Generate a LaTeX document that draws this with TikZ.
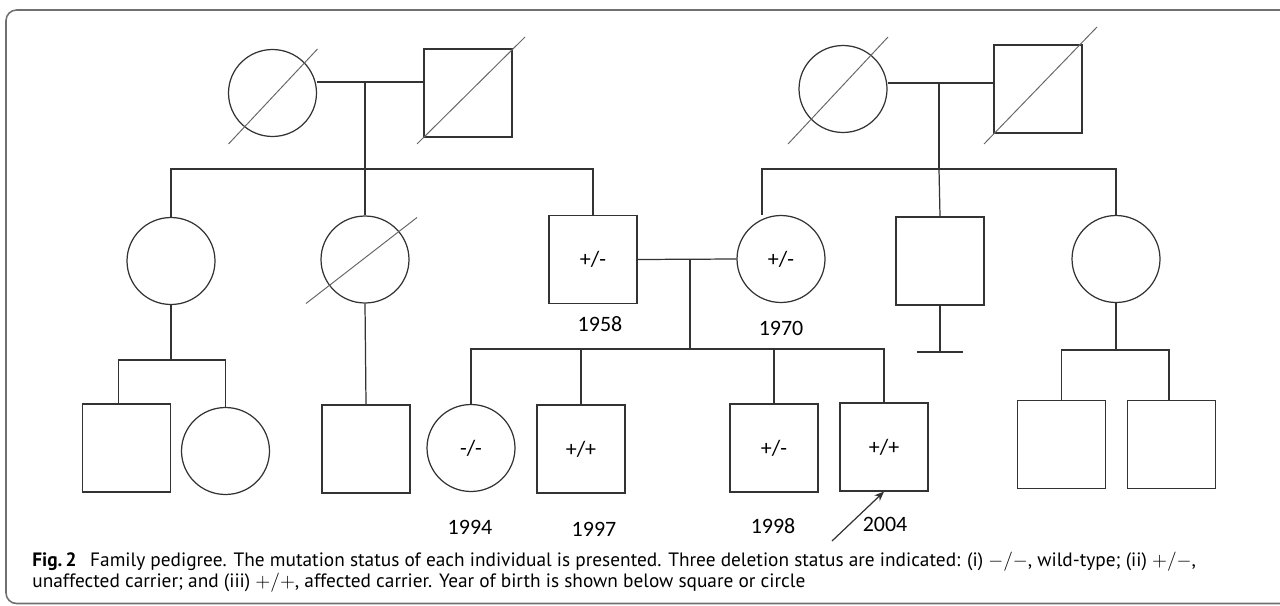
\documentclass[tikz,border=0pt]{standalone}
\usepackage{fontspec}
\setmainfont{Carlito}
\newfontfamily\capfont{PT Sans}
\usetikzlibrary{shapes.geometric,arrows.meta}
\definecolor{ink}{HTML}{333333}
\definecolor{slashgray}{HTML}{666666}
\definecolor{framegray}{HTML}{707070}

\begin{document}
\begin{tikzpicture}[x=0.02cm,y=-0.02cm,
    male/.style={draw=ink,line width=0.7pt,rectangle,inner sep=0pt,
      minimum width=1.76cm,minimum height=1.76cm,font=\fontsize{12.5}{14}\selectfont},
    female/.style={draw=ink,line width=0.7pt,ellipse,inner sep=0pt,
      minimum width=1.76cm,minimum height=1.74cm,font=\fontsize{12.5}{14}\selectfont},
    rel/.style={draw=ink,line width=0.7pt},
    slash/.style={draw=slashgray,line width=0.55pt},
    year/.style={font=\fontsize{12.5}{14}\selectfont}]
  \useasboundingbox (0,0) rectangle (1280,605);
  \draw[framegray,line width=0.9pt,rounded corners=6pt]
    (1300,10) -- (6,10) -- (6,603.5) -- (1300,603.5);

  % first generation
  \node[female] (grandma1) at (272.5,93) {};
  \node[male]   (grandpa1) at (468,93) {};
  \node[female] (grandma2) at (843,89) {};
  \node[male]   (grandpa2) at (1038,89) {};
  \draw[slash] ([shift={(-44,51)}]grandma1.center) -- ([shift={(45,-44)}]grandma1.center);
  \draw[slash] ([shift={(-51,51)}]grandpa1.center) -- ([shift={(57,-56)}]grandpa1.center);
  \draw[slash] ([shift={(-55,55)}]grandma2.center) -- ([shift={(45,-52)}]grandma2.center);
  \draw[slash] ([shift={(-54,55)}]grandpa2.center) -- ([shift={(59,-62)}]grandpa2.center);

  \coordinate (u1) at (365,82);
  \coordinate (s1) at (365,169);
  \coordinate (u2) at (939,83);
  \coordinate (s2) at (939,169);
  \draw[rel] (grandma1.east |- u1) -- (grandpa1.west |- u1);
  \draw[rel] (u1) -- (s1);
  \draw[rel] (grandma2.east |- u2) -- (grandpa2.west |- u2);
  \draw[rel] (u2) -- (s2);

  % second generation
  \node[female] (aunt1)  at (171,261) {};
  \node[female] (aunt2)  at (365,259.5) {};
  \node[male]   (father) at (593,259.5) {+/-};
  \node[female] (mother) at (781,259) {+/-};
  \node[male]   (uncle)  at (940,261) {};
  \node[female] (aunt3)  at (1116,259) {};
  \draw[slash] ([shift={(-59,44)}]aunt2.center) -- ([shift={(52,-42)}]aunt2.center);

  \draw[rel] (aunt1.north) |- (s1) -| (father.north);
  \draw[rel] (s1) -- (aunt2.north);
  \draw[rel] ([xshift=-0.38cm]mother.north) |- (s2) -| (aunt3.north);
  \draw[rel] (s2) -- (uncle.north);

  \coordinate (u3) at (690,259.5);
  \coordinate (s3) at (690,349);
  \draw[rel] (father.east) -- (mother.west);
  \draw[rel] (u3) -- (s3);

  % no children
  \coordinate (nc) at (940,352);
  \draw[rel] (uncle.south) -- (nc);
  \draw[rel] ([xshift=-0.46cm]nc) -- ([xshift=0.46cm]nc);

  % third generation
  \node[male]   (cousin1)  at (126.5,448) {};
  \node[female] (cousin2)  at (225.5,451) {};
  \node[male]   (cousin3)  at (366,449) {};
  \node[female] (sister)   at (471,448) {-/-};
  \node[male]   (brother1) at (581,449) {+/+};
  \node[male]   (brother2) at (774,448) {+/-};
  \node[male]   (proband)  at (884,447) {+/+};
  \node[male]   (cousin4)  at (1061.5,444.5) {};
  \node[male]   (cousin5)  at (1171.5,444.5) {};

  \coordinate (s5) at (171,360);
  \coordinate (s4) at (1116,350);
  \draw[rel] (aunt1.south) -- (s5);
  \draw[rel] ([xshift=-0.16cm]cousin1.north) |- (s5) -| (cousin2.north);
  \draw[rel] (aunt2.south) -- (cousin3.north);
  \draw[rel] (sister.north) |- (s3) -| (proband.north);
  \draw[rel] (s3 -| brother1) -- (brother1.north);
  \draw[rel] (s3 -| brother2) -- (brother2.north);
  \draw[rel] (aunt3.south) -- (s4);
  \draw[rel] (cousin4.north) |- (s4) -| ([xshift=-0.05cm]cousin5.north);

  % years of birth
  \node[year] (b1958) at (600,324) {1958};
  \node[year] (b1970) at (781,328) {1970};
  \node[year] (b1994) at (470,527) {1994};
  \node[year] (b1997) at (594,529) {1997};
  \node[year] (b1998) at (773,526) {1998};
  \node[year] (b2004) at (885,524) {2004};

  % proband
  \coordinate (pa) at (832,541);
  \draw[rel,-{Stealth[length=5.5pt,width=4.5pt]}] (pa) -- (proband.south);

  % caption
  \node[anchor=north west,align=left,inner sep=0pt,
    font=\capfont\fontsize{11}{10.2}\selectfont] (caption) at (32,552)
    {\textbf{Fig.\,2}\hspace{0.7em}Family pedigree. The mutation status of each individual is presented. Three deletion status are indicated: (i) $-/-$, wild-type; (ii) $+/-$,\\
     unaffected carrier; and (iii) $+/+$, affected carrier. Year of birth is shown below square or circle};
\end{tikzpicture}
\end{document}
